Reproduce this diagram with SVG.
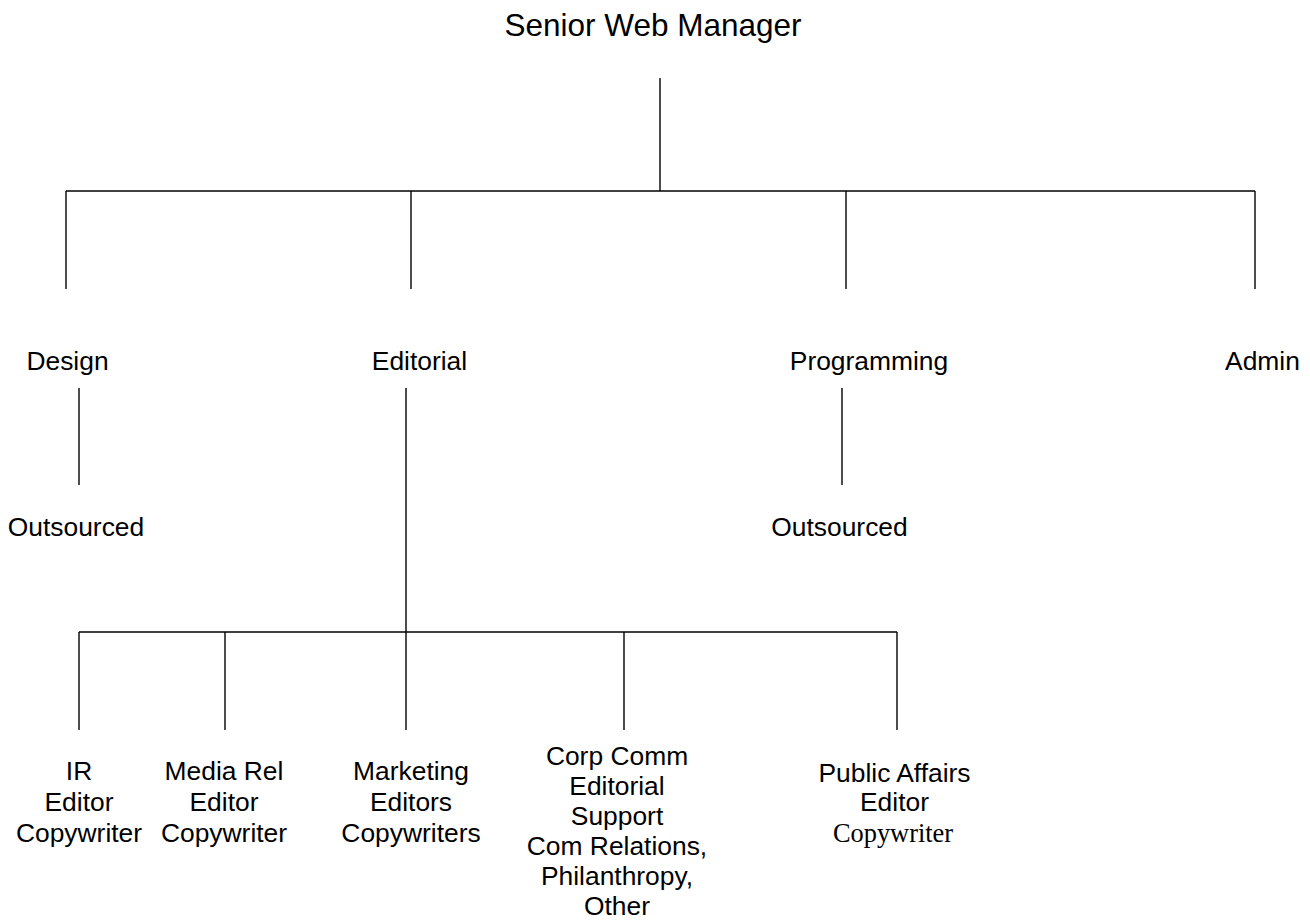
<svg xmlns="http://www.w3.org/2000/svg" width="1310" height="921" viewBox="0 0 1310 921">
<style>
  text { font-family: "Liberation Sans", Arial, sans-serif; font-size: 26.4px; fill: #000; text-anchor: middle; }
  .title { font-size: 31.5px; }
  .serif { font-family: "Liberation Serif", "Times New Roman", serif; font-size: 26.4px; }
  .conn line { stroke: #000; stroke-width: 1.4; fill: none; }
</style>
<rect width="1310" height="921" fill="#fff"/>
<g class="conn" id="connectors">
  <line x1="660" y1="78" x2="660" y2="191"/>
  <line x1="66" y1="191" x2="1255" y2="191"/>
  <line x1="66" y1="191" x2="66" y2="289"/>
  <line x1="411" y1="191" x2="411" y2="289"/>
  <line x1="846" y1="191" x2="846" y2="289"/>
  <line x1="1255" y1="191" x2="1255" y2="289"/>
  <line x1="79" y1="388" x2="79" y2="485"/>
  <line x1="842" y1="388" x2="842" y2="485"/>
  <line x1="406" y1="388" x2="406" y2="632"/>
  <line x1="79" y1="632" x2="897" y2="632"/>
  <line x1="79" y1="632" x2="79" y2="730"/>
  <line x1="225" y1="632" x2="225" y2="730"/>
  <line x1="406" y1="632" x2="406" y2="730"/>
  <line x1="624" y1="632" x2="624" y2="730"/>
  <line x1="897" y1="632" x2="897" y2="730"/>
</g>
<g id="senior"><text class="title" x="653" y="36">Senior Web Manager</text></g>
<g id="design"><text x="67.5" y="370">Design</text></g>
<g id="editorial"><text x="419.5" y="370">Editorial</text></g>
<g id="programming"><text x="869" y="370">Programming</text></g>
<g id="admin"><text x="1262.5" y="370">Admin</text></g>
<g id="design-outsourced"><text x="76" y="536">Outsourced</text></g>
<g id="programming-outsourced"><text x="839.5" y="536">Outsourced</text></g>
<g id="ir">
  <text x="79" y="780">IR</text>
  <text x="79" y="811">Editor</text>
  <text x="79" y="842">Copywriter</text>
</g>
<g id="media-rel">
  <text x="224" y="780">Media Rel</text>
  <text x="224" y="811">Editor</text>
  <text x="224" y="842">Copywriter</text>
</g>
<g id="marketing">
  <text x="411" y="780">Marketing</text>
  <text x="411" y="811">Editors</text>
  <text x="411" y="842">Copywriters</text>
</g>
<g id="corp-comm">
  <text x="617" y="765">Corp Comm</text>
  <text x="617" y="795">Editorial</text>
  <text x="617" y="825">Support</text>
  <text x="617" y="855">Com Relations,</text>
  <text x="617" y="885">Philanthropy,</text>
  <text x="617" y="915">Other</text>
</g>
<g id="public-affairs">
  <text x="894.5" y="782">Public Affairs</text>
  <text x="894.5" y="811">Editor</text>
  <text class="serif" x="893" y="842">Copywriter</text>
</g>
</svg>
